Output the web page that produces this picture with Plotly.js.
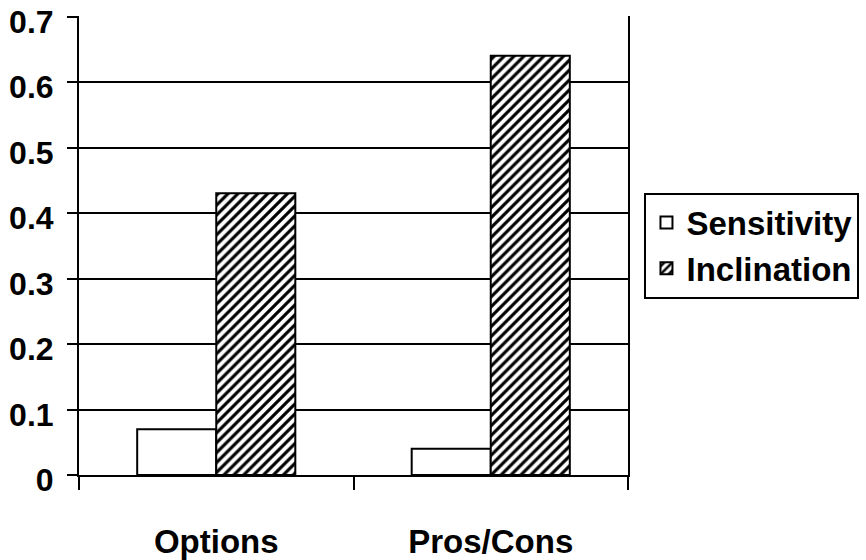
<!DOCTYPE html>
<html>
<head>
<meta charset="utf-8">
<script src="https://cdn.plot.ly/plotly-3.0.1.min.js"></script>
<style>
  html, body { margin: 0; padding: 0; background: #fff; }
  #chart { width: 866px; height: 560px; }
</style>
</head>
<body>
<div id="chart"></div>
<script>
// Categories and measured values
const categories = ["Options", "Pros/Cons"];
const sensitivity = [0.07, 0.04];
const inclination = [0.43, 0.64];
const yTicks = [0, 0.1, 0.2, 0.3, 0.4, 0.5, 0.6, 0.7];

const FONT = "Liberation Sans, Arial, sans-serif";

const traces = [
  {
    type: "bar",
    name: "Sensitivity",
    x: categories,
    y: sensitivity,
    marker: { color: "#ffffff", line: { color: "#000", width: 2 } }
  },
  {
    type: "bar",
    name: "Inclination",
    x: categories,
    y: inclination,
    marker: {
      color: "#ffffff",
      line: { color: "#000", width: 2 },
      pattern: { shape: "/", fgcolor: "#000", bgcolor: "#fff", size: 7, solidity: 0.45 }
    }
  }
];

const layout = {
  width: 866,
  height: 560,
  margin: { l: 79, r: 238, t: 16, b: 85, autoexpand: false },
  paper_bgcolor: "#fff",
  plot_bgcolor: "#fff",
  barmode: "group",
  bargap: 0.424,
  bargroupgap: 0,
  font: { family: FONT, color: "#000" },
  xaxis: {
    type: "category",
    showline: true, linecolor: "#000", linewidth: 2,
    ticks: "outside", tickson: "boundaries", ticklen: 13, tickwidth: 2, tickcolor: "#000",
    ticklabelstandoff: 36,
    tickfont: { family: FONT, size: 33, weight: "bold" },
    showgrid: false, zeroline: false
  },
  yaxis: {
    range: [0, 0.7008],
    tickvals: yTicks,
    ticktext: yTicks.map(v => String(v)),
    ticklabeloverflow: "allow",
    ticklabelshift: 5,
    showline: true, mirror: true, linecolor: "#000", linewidth: 2,
    ticks: "outside", ticklen: 10, tickwidth: 2, tickcolor: "#000",
    ticklabelstandoff: 7,
    tickfont: { family: FONT, size: 32, weight: "bold" },
    showgrid: true, gridcolor: "#000", gridwidth: 2,
    zeroline: false
  },
  legend: {
    x: 1.03, xanchor: "left",
    y: 0.5, yanchor: "middle",
    bordercolor: "#000", borderwidth: 2,
    bgcolor: "#fff",
    font: { family: FONT, size: 33, weight: "bold" },
    itemwidth: 30,
    tracegroupgap: 0
  },
  showlegend: true
};

Plotly.newPlot("chart", traces, layout, { displayModeBar: false, staticPlot: true });
</script>
</body>
</html>
